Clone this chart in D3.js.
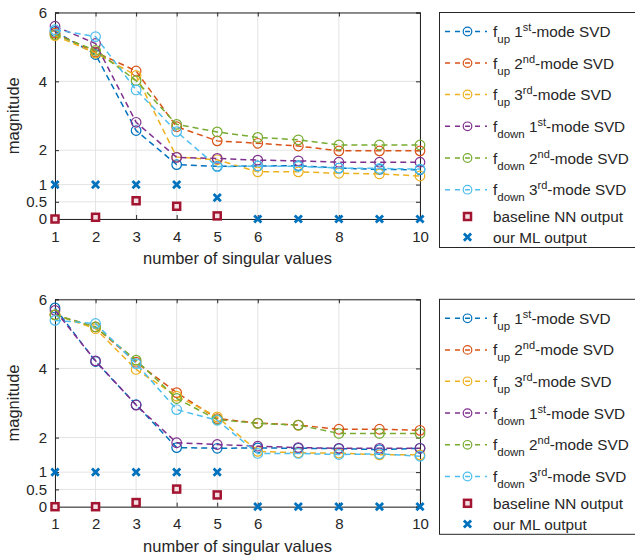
<!DOCTYPE html>
<meta charset="utf-8">
<style>
    body { margin: 0; background: #fff; }
    svg text { font-family: Arial, "Liberation Sans", Helvetica, sans-serif; fill: #262626; }
</style>
<body>
<script src="https://d3js.org/d3.v7.min.js"></script>
<script>

// x positions (number of singular values)
var nsv = [1, 2, 3, 4, 5, 6, 7, 8, 9, 10];
var xTicks = [1, 2, 3, 4, 5, 6, 8, 10];
var yTicks = [0, 0.5, 1, 2, 4, 6];

// series names and colours (MATLAB default order)
var seriesNames = [
    ["up", "1", "st"], ["up", "2", "nd"], ["up", "3", "rd"],
    ["down", "1", "st"], ["down", "2", "nd"], ["down", "3", "rd"]
];
var colors = ["#0072BD", "#D95319", "#EDB120", "#7E2F8E", "#77AC30", "#4DBEEE"];

// top panel
var topUp1   = [5.45, 4.78, 2.57, 1.58, 1.53, 1.54, 1.55, 1.48, 1.44, 1.43];
var topUp2   = [5.40, 4.85, 4.30, 2.68, 2.27, 2.20, 2.12, 1.98, 1.98, 1.98];
var topUp3   = [5.33, 4.82, 4.17, 1.80, 1.72, 1.37, 1.37, 1.33, 1.31, 1.25];
var topDown1 = [5.60, 5.10, 2.81, 1.79, 1.76, 1.71, 1.69, 1.65, 1.65, 1.65];
var topDown2 = [5.36, 4.90, 4.02, 2.75, 2.53, 2.37, 2.30, 2.15, 2.15, 2.15];
var topDown3 = [5.50, 5.30, 3.75, 2.54, 1.52, 1.54, 1.53, 1.48, 1.47, 1.45];
var topBaseline = [0, 0.05, 0.53, 0.37, 0.09];
var topML = [1, 1, 1, 1, 0.62, 0, 0, 0, 0, 0];

// bottom panel
var botUp1   = [5.75, 4.20, 2.95, 1.71, 1.69, 1.70, 1.69, 1.68, 1.65, 1.69];
var botUp2   = [5.55, 5.20, 4.18, 3.30, 2.55, 2.42, 2.36, 2.24, 2.24, 2.21];
var botUp3   = [5.55, 5.15, 3.97, 3.20, 2.60, 1.60, 1.56, 1.55, 1.50, 1.50];
var botDown1 = [5.68, 4.22, 2.94, 1.85, 1.80, 1.75, 1.71, 1.69, 1.69, 1.69];
var botDown2 = [5.55, 5.20, 4.24, 3.13, 2.52, 2.41, 2.36, 2.12, 2.12, 2.12];
var botDown3 = [5.39, 5.30, 4.14, 2.81, 2.50, 1.54, 1.54, 1.51, 1.53, 1.46];
var botBaseline = [0, 0, 0.12, 0.51, 0.34];
var botML = [1, 1, 1, 1, 1, 0, 0, 0, 0, 0];

var svg = d3.select("body").append("svg")
    .attr("width", 635)
    .attr("height", 556);

var crossPath = "M-3.6,-3.6L3.6,3.6M-3.6,3.6L3.6,-3.6";

function drawPanel(top, bottom, series, baseline, ml) {
    var x = d3.scaleLinear().domain([1, 10]).range([55, 420]);
    var y = d3.scaleLinear().domain([0, 6]).range([bottom, top]);
    var g = svg.append("g");

    // grid
    g.selectAll(".gx").data(xTicks).enter().append("line")
        .attr("x1", d => x(d)).attr("x2", d => x(d))
        .attr("y1", top).attr("y2", bottom)
        .attr("stroke", "#e3e3e3").attr("stroke-width", 1);
    g.selectAll(".gy").data(yTicks).enter().append("line")
        .attr("x1", 55).attr("x2", 420)
        .attr("y1", d => y(d)).attr("y2", d => y(d))
        .attr("stroke", "#e3e3e3").attr("stroke-width", 1);

    // axes (MATLAB style box, ticks inward)
    g.append("g").attr("transform", "translate(0," + bottom + ")")
        .call(d3.axisBottom(x).tickValues(xTicks).tickSize(-4).tickPadding(12).tickFormat(d3.format("d")));
    g.append("g").attr("transform", "translate(0," + top + ")")
        .call(d3.axisTop(x).tickValues(xTicks).tickSize(-4).tickFormat(""));
    g.append("g").attr("transform", "translate(55,0)")
        .call(d3.axisLeft(y).tickValues(yTicks).tickSize(-4).tickPadding(8).tickFormat(d => d));
    g.append("g").attr("transform", "translate(420,0)")
        .call(d3.axisRight(y).tickValues(yTicks).tickSize(-4).tickFormat(""));
    g.selectAll(".domain").attr("stroke", "#262626").attr("stroke-width", 1);
    g.selectAll(".tick line").attr("stroke", "#262626");
    g.selectAll(".tick text").style("font-size", "15px").attr("fill", "#262626");

    // lines and circles
    var line = d3.line().x((d, i) => x(nsv[i])).y(d => y(d));
    series.forEach(function(s, k) {
        g.append("path").datum(s)
            .attr("d", line)
            .attr("fill", "none")
            .attr("stroke", colors[k])
            .attr("stroke-width", 1.5)
            .attr("stroke-dasharray", "6,4");
        g.selectAll(".c" + k).data(s).enter().append("circle")
            .attr("cx", (d, i) => x(nsv[i]))
            .attr("cy", d => y(d))
            .attr("r", 4.8)
            .attr("fill", "none")
            .attr("stroke", colors[k])
            .attr("stroke-width", 1.2);
    });

    // baseline NN squares
    g.selectAll(".sq").data(baseline).enter().append("rect")
        .attr("x", (d, i) => x(nsv[i]) - 3.5)
        .attr("y", d => y(d) - 3.5)
        .attr("width", 7).attr("height", 7)
        .attr("fill", "#f3dfe3")
        .attr("stroke", "#A2142F")
        .attr("stroke-width", 2.5);

    // our ML crosses
    g.selectAll(".ml").data(ml).enter().append("path")
        .attr("transform", (d, i) => "translate(" + x(nsv[i]) + "," + y(d) + ")")
        .attr("d", crossPath)
        .attr("stroke", "#0072BD")
        .attr("stroke-width", 2.8);

    // labels
    g.append("text")
        .attr("x", 237.5).attr("y", bottom + 45)
        .attr("text-anchor", "middle")
        .style("font-size", "16.5px")
        .text("number of singular values");
    g.append("text")
        .attr("transform", "translate(19," + ((top + bottom) / 2) + ") rotate(-90)")
        .attr("text-anchor", "middle")
        .style("font-size", "16.5px")
        .text("magnitude");

    // legend
    var ly = top;
    var lg = g.append("g");
    lg.append("rect")
        .attr("x", 439.5).attr("y", ly)
        .attr("width", 220).attr("height", 235)
        .attr("fill", "#fff")
        .attr("stroke", "#262626").attr("stroke-width", 1);
    var rows = [19, 50.6, 82, 113.8, 145.5, 177.2, 204, 224.7];
    seriesNames.forEach(function(n, k) {
        var cy = ly + rows[k];
        lg.append("line")
            .attr("x1", 445).attr("x2", 487)
            .attr("y1", cy).attr("y2", cy)
            .attr("stroke", colors[k]).attr("stroke-width", 1.5)
            .attr("stroke-dasharray", "5,5");
        lg.append("circle")
            .attr("cx", 467.5).attr("cy", cy).attr("r", 4.3)
            .attr("fill", "none")
            .attr("stroke", colors[k]).attr("stroke-width", 1.2);
        var t = lg.append("text")
            .attr("x", 493).attr("y", cy + 5.5)
            .style("font-size", "15.3px");
        t.append("tspan").text("f");
        t.append("tspan").attr("dy", 6).style("font-size", "11.5px").text(n[0]);
        t.append("tspan").attr("dy", -6).text("\u00a0" + n[1]);
        t.append("tspan").attr("dy", -6).style("font-size", "11px").text(n[2]);
        t.append("tspan").attr("dy", 6).text("-mode SVD");
    });
    var by = ly + rows[6];
    lg.append("rect")
        .attr("x", 467.5 - 3.5).attr("y", by - 3.5)
        .attr("width", 7).attr("height", 7)
        .attr("fill", "#f3dfe3")
        .attr("stroke", "#A2142F").attr("stroke-width", 2.5);
    lg.append("text").attr("x", 493).attr("y", by + 5.5)
        .style("font-size", "15.3px").text("baseline NN output");
    var my = ly + rows[7];
    lg.append("path")
        .attr("transform", "translate(467.5," + my + ")")
        .attr("d", crossPath)
        .attr("stroke", "#0072BD").attr("stroke-width", 2.8);
    lg.append("text").attr("x", 493).attr("y", my + 5.5)
        .style("font-size", "15.3px").text("our ML output");
}

drawPanel(12.5, 219, [topUp1, topUp2, topUp3, topDown1, topDown2, topDown3], topBaseline, topML);
drawPanel(299.3, 506.7, [botUp1, botUp2, botUp3, botDown1, botDown2, botDown3], botBaseline, botML);

</script>
</body>
